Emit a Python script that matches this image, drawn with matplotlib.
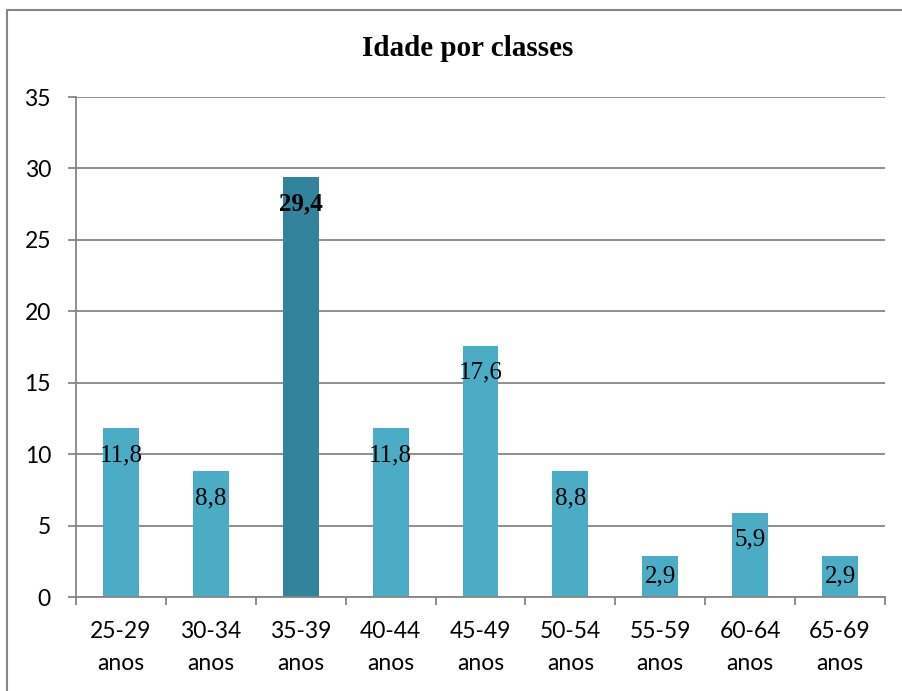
import matplotlib
matplotlib.use("Agg")
import matplotlib.pyplot as plt
from matplotlib.patches import Rectangle

categories = ["25-29\nanos", "30-34\nanos", "35-39\nanos", "40-44\nanos", "45-49\nanos",
              "50-54\nanos", "55-59\nanos", "60-64\nanos", "65-69\nanos"]
values = [11.8, 8.8, 29.4, 11.8, 17.6, 8.8, 2.9, 5.9, 2.9]
value_labels = ["11,8", "8,8", "29,4", "11,8", "17,6", "8,8", "2,9", "5,9", "2,9"]
highlight = "35-39\nanos"
yticks = [0, 5, 10, 15, 20, 25, 30, 35]

LIGHT = "#4BACC6"
DARK = "#31849B"
GRID = "#868686"
SANS = ["Lato", "DejaVu Sans"]
SERIF = ["Liberation Serif", "DejaVu Serif"]

fig = plt.figure(figsize=(9.02, 6.91), dpi=100)
ax = fig.add_axes([76/902, 1-597/691, (885-76)/902, (597-97)/691])

x = list(range(len(categories)))
colors = [DARK if c == highlight else LIGHT for c in categories]
bars = ax.bar(x, values, width=0.4, color=colors, zorder=3)

ax.set_xlim(-0.5, len(categories) - 0.5)
ax.set_ylim(0, 35)
ax.set_yticks(yticks)
ax.set_yticklabels([str(t) for t in yticks], family=SANS, fontsize=16.5)
ax.set_xticks(x)
ax.set_xticklabels(categories, family=SANS, fontsize=16.5, linespacing=1.68)
ax.tick_params(axis="x", length=0, pad=17)
ax.tick_params(axis="y", length=6, width=1.3, color=GRID, pad=12)
# minor ticks at category boundaries
ax.set_xticks([i - 0.5 for i in range(len(categories) + 1)], minor=True)
ax.tick_params(axis="x", which="minor", length=6, width=1.3, color=GRID)

ax.yaxis.grid(True, color=GRID, linewidth=1.3, zorder=0)
for s in ["top", "right"]:
    ax.spines[s].set_visible(False)
for s in ["left", "bottom"]:
    ax.spines[s].set_color(GRID)
    ax.spines[s].set_linewidth(1.3)
    ax.spines[s].set_zorder(4)

px_per_unit = (597 - 97) / 35.0
for xi, v, lab, c in zip(x, values, value_labels, categories):
    off_px = min(27, v * px_per_unit / 2)
    ax.annotate(lab, xy=(xi, v), xytext=(0, -off_px * 72 / 100), textcoords="offset points",
                ha="center", va="center", family=SERIF, fontsize=18,
                fontweight="bold" if c == highlight else "normal", zorder=5)

fig.text(468/902, 1-48/691, "Idade por classes", ha="center", va="center",
         family=SERIF, fontsize=21, fontweight="bold")

fig.patches.append(Rectangle((7/902, -0.1), 1.2, 1 - 9.5/691 + 0.1, transform=fig.transFigure,
                             fill=False, edgecolor=GRID, linewidth=1.5, clip_on=False))

fig.savefig("out.png", dpi=100)
